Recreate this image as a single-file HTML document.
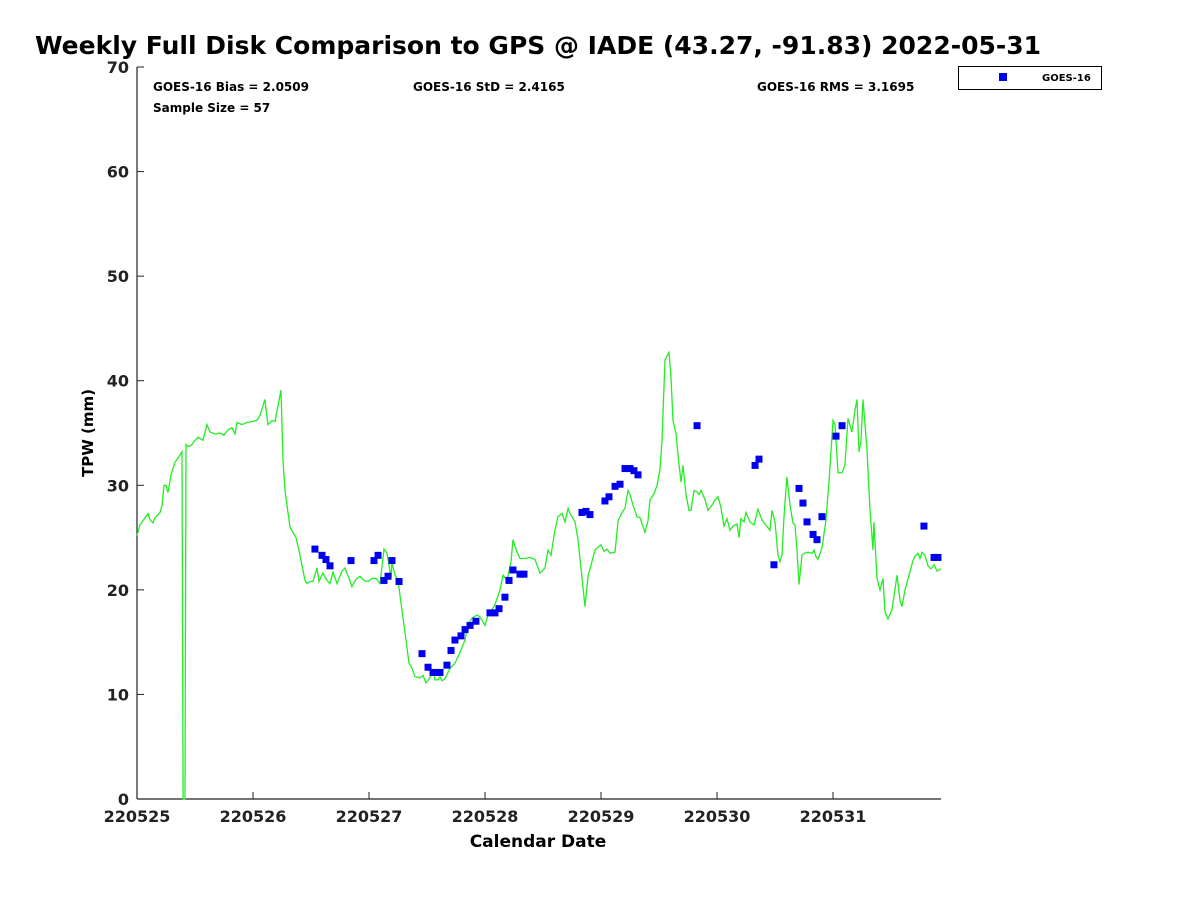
<!DOCTYPE html>
<html><head><meta charset="utf-8"><style>
body{margin:0;background:#fff;font-family:"Liberation Sans","DejaVu Sans",sans-serif;}
svg text{font-family:"DejaVu Sans","Liberation Sans",sans-serif;font-weight:bold;}
</style></head><body>
<svg id="c" width="1200" height="900" viewBox="0 0 1200 900" xmlns="http://www.w3.org/2000/svg">
<rect width="1200" height="900" fill="#fff"/>
<text x="35" y="54" font-size="25">Weekly Full Disk Comparison to GPS @ IADE (43.27, -91.83) 2022-05-31</text>
<text x="153" y="91" font-size="12">GOES-16 Bias = 2.0509</text>
<text x="153" y="112" font-size="12">Sample Size = 57</text>
<text x="413" y="91" font-size="12">GOES-16 StD = 2.4165</text>
<text x="757" y="91" font-size="12">GOES-16 RMS = 3.1695</text>
<g>
<rect x="958.5" y="66.5" width="143" height="23" fill="#fff" stroke="#000" stroke-width="1"/>
<rect x="999" y="73" width="8" height="8" fill="#0000ee"/>
<text x="1042" y="81" font-size="10">GOES-16</text>
</g>
<g id="axes"></g>
<g id="series"></g>
<text x="538" y="847" font-size="17" text-anchor="middle">Calendar Date</text>
<text transform="translate(93,433) rotate(-90)" font-size="15" text-anchor="middle">TPW (mm)</text>
</svg>
<script>
const xTickLabels=["220525","220526","220527","220528","220529","220530","220531"];
const yTickLabels=[0,10,20,30,40,50,60,70];
const gpsDays=[0,0.026,0.069,0.095,0.112,0.138,0.155,0.198,0.216,0.233,0.25,0.267,0.293,0.328,0.371,0.388,0.397,0.414,0.422,0.44,0.466,0.5,0.526,0.569,0.603,0.629,0.672,0.716,0.75,0.784,0.819,0.845,0.862,0.905,0.948,0.991,1.034,1.06,1.103,1.129,1.164,1.19,1.241,1.259,1.276,1.293,1.319,1.371,1.405,1.448,1.466,1.491,1.517,1.552,1.569,1.603,1.638,1.664,1.69,1.724,1.767,1.793,1.828,1.853,1.888,1.922,1.957,1.991,2.026,2.06,2.095,2.129,2.155,2.19,2.198,2.224,2.25,2.284,2.319,2.345,2.371,2.397,2.44,2.466,2.491,2.526,2.552,2.569,2.595,2.612,2.629,2.655,2.698,2.741,2.784,2.828,2.853,2.888,2.931,2.957,3,3.026,3.06,3.086,3.129,3.155,3.19,3.224,3.241,3.276,3.302,3.345,3.388,3.431,3.474,3.517,3.543,3.569,3.603,3.629,3.664,3.69,3.716,3.733,3.776,3.802,3.828,3.862,3.888,3.905,3.948,3.974,4,4.026,4.052,4.078,4.121,4.147,4.181,4.207,4.233,4.25,4.276,4.31,4.336,4.379,4.405,4.422,4.457,4.483,4.509,4.526,4.552,4.586,4.603,4.621,4.647,4.664,4.69,4.707,4.733,4.759,4.776,4.802,4.828,4.845,4.862,4.897,4.922,4.957,4.983,5.009,5.034,5.06,5.086,5.112,5.138,5.172,5.19,5.207,5.233,5.25,5.284,5.319,5.353,5.388,5.414,5.457,5.474,5.5,5.526,5.543,5.56,5.578,5.603,5.629,5.655,5.672,5.69,5.707,5.733,5.75,5.784,5.819,5.836,5.853,5.871,5.905,5.94,5.966,6,6.017,6.043,6.078,6.103,6.129,6.164,6.19,6.207,6.224,6.241,6.259,6.293,6.319,6.345,6.353,6.379,6.405,6.431,6.448,6.474,6.509,6.534,6.552,6.578,6.595,6.621,6.647,6.69,6.707,6.733,6.75,6.767,6.793,6.819,6.845,6.871,6.897,6.931];
const gpsTpw=[25.2,26.2,26.9,27.3,26.7,26.4,26.9,27.4,28.1,30,30,29.3,31,32.2,32.9,33.2,0,0,33.9,33.7,33.8,34.3,34.6,34.3,35.8,35.1,34.9,35,34.8,35.3,35.5,34.9,36,35.8,36,36.1,36.2,36.7,38.2,35.8,36.2,36.1,39.1,32.4,29.5,28.1,26,25,23.3,20.9,20.6,20.8,20.8,22.1,20.8,21.6,20.9,20.6,21.7,20.6,21.8,22.1,21.1,20.3,21,21.3,20.9,20.8,21.1,21.1,20.6,23.9,23.5,21.2,22.6,21.4,20.9,18.1,15.2,13,12.5,11.7,11.6,11.8,11.1,11.6,12.3,11.4,11.4,11.7,11.3,11.5,12.5,13,14,15.2,16.6,17.3,17.6,17.4,16.6,17.6,18.1,18.6,20,21.4,20.9,22.7,24.8,23.6,23,23,23.1,22.9,21.6,22.1,23.8,23.3,25.7,27,27.3,26.5,27.8,27.3,26.5,24.8,22.1,18.4,21.3,22,23.8,24.1,24.3,23.7,23.9,23.5,23.6,26.6,27.4,27.8,29.5,29.1,28.1,27,26.9,25.5,26.6,28.6,29.2,30,31.5,34.3,42,42.7,40.5,36.2,34.9,32.9,30.3,31.9,29.1,27.6,27.6,29.5,29.4,29.1,29.5,28.6,27.6,28.1,28.6,28.9,27.9,26.1,26.8,25.7,26.1,26.3,25,26.8,26.5,27.4,26.5,26.2,27.7,26.7,26.3,25.7,27.6,26.5,23.3,22.7,23.3,27,30.8,28.1,26.4,26.2,23.8,20.5,23.3,23.5,23.6,23.5,23.8,23.2,22.9,24,26.7,30.5,36.2,35.8,31.2,31.2,31.9,36.4,35.1,37.2,38.2,33.2,34.3,38.2,33.4,27.6,23.8,26.5,21.1,20,21.1,17.9,17.2,18.1,20,21.4,19,18.4,20,21.1,22.8,23.2,23.5,23,23.6,23.3,22.3,22,22.4,21.8,22];
const goesDays=[1.534,1.595,1.629,1.664,1.845,2.043,2.078,2.129,2.164,2.198,2.259,2.457,2.509,2.552,2.586,2.612,2.672,2.707,2.741,2.793,2.828,2.871,2.922,3.043,3.086,3.121,3.172,3.207,3.241,3.302,3.336,3.836,3.871,3.905,4.034,4.069,4.121,4.164,4.207,4.25,4.284,4.319,4.828,5.328,5.362,5.491,5.707,5.741,5.776,5.828,5.862,5.905,6.026,6.078,6.784,6.871,6.905];
const goesTpw=[23.9,23.3,22.9,22.3,22.8,22.8,23.3,20.9,21.3,22.8,20.8,13.9,12.6,12.1,12.1,12.1,12.8,14.2,15.2,15.6,16.2,16.6,17,17.8,17.8,18.2,19.3,20.9,21.9,21.5,21.5,27.4,27.5,27.2,28.5,28.9,29.9,30.1,31.6,31.6,31.4,31,35.7,31.9,32.5,22.4,29.7,28.3,26.5,25.3,24.8,27,34.7,35.7,26.1,23.1,23.1];

const L=137,R=941,T=67,B=799,XMAX=(R-L)/116,YMAX=70;
const xs=d=>L+d/XMAX*(R-L);
const ys=v=>B-v/YMAX*(B-T);
const NS="http://www.w3.org/2000/svg";
function mk(tag,attrs,parent){const e=document.createElementNS(NS,tag);for(const k in attrs)e.setAttribute(k,attrs[k]);parent.appendChild(e);return e;}
const ax=document.getElementById('axes');
const xl=mk('line',{x1:L,y1:B,x2:R,y2:B,stroke:'#222','stroke-width':1.2},ax);


const yl=mk('line',{x1:L,y1:T,x2:L,y2:B,stroke:'#222','stroke-width':1.2},ax);


xTickLabels.forEach((lab,i)=>{const x=xs(i);
 const t=mk('line',{x1:x,y1:B,x2:x,y2:B-7,stroke:'#222'},ax);
 
 
 const tx=mk('text',{x:x,y:B+23,'font-size':16,'text-anchor':'middle',fill:'#222'},ax);tx.textContent=lab;
 
 
});
yTickLabels.forEach(v=>{const y=ys(v);
 const t=mk('line',{x1:L,y1:y,x2:L+7,y2:y,stroke:'#222'},ax);
 
 
 const tx=mk('text',{x:L-8,y:y+6,'font-size':16,'text-anchor':'end',fill:'#222'},ax);tx.textContent=v;
 
 
});
const sg=document.getElementById('series');
const pl=mk('polyline',{points:gpsDays.map((d,i)=>xs(d).toFixed(1)+','+ys(gpsTpw[i]).toFixed(1)).join(' '),fill:'none',stroke:'#22ee22','stroke-width':1.3},sg);


goesDays.forEach((d,i)=>{
 const r=mk('rect',{x:xs(d)-3.5,y:ys(goesTpw[i])-3.5,width:7,height:7,fill:'#0000ee'},sg);
 
 
});
</script>
</body></html>
